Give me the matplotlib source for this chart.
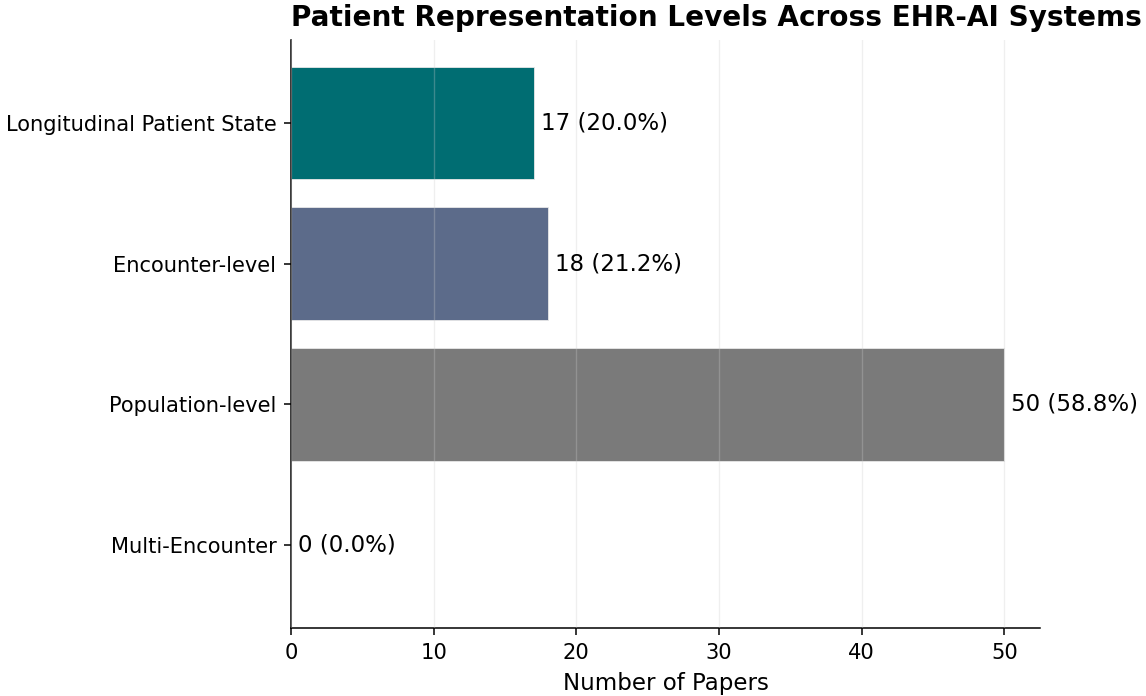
import matplotlib
matplotlib.use("Agg")
import matplotlib.pyplot as plt

categories = ["Longitudinal Patient State", "Encounter-level", "Population-level", "Multi-Encounter"]
counts = [17, 18, 50, 0]
percents = [20.0, 21.2, 58.8, 0.0]
colors = ["#006d72", "#5c6b8a", "#7a7a7a", "#9a9a9a"]

fig = plt.figure(figsize=(11.46, 6.96), dpi=100)
ax = fig.add_axes([291/1146, 68/696, (1040-291)/1146, (628-40)/696])

y = list(range(len(categories)))
ax.barh(y, counts, height=0.8, color=colors, edgecolor="#e8e8e8", linewidth=0.6, zorder=2)
ax.set_yticks(y)
ax.set_yticklabels(categories, fontsize=15.1)
ax.invert_yaxis()
ax.set_xlim(0, max(counts) * 1.05)
ax.tick_params(axis="both", labelsize=15.1, length=5, width=1.1, pad=5.5)
ax.grid(axis="x", color="#cccccc", alpha=0.3, linewidth=1.0, zorder=3)
ax.set_axisbelow(False)
for s in ["top", "right"]:
    ax.spines[s].set_visible(False)
for s in ["left", "bottom"]:
    ax.spines[s].set_linewidth(1.1)

for yi, c, p in zip(y, counts, percents):
    ax.text(c + 0.5, yi, f"{c} ({p:.1f}%)", va="center", ha="left", fontsize=16.5, zorder=4)

ax.set_xlabel("Number of Papers", fontsize=16.5, labelpad=7)
ax.set_title("Patient Representation Levels Across EHR-AI Systems", loc="left",
             fontsize=20.1, fontweight="bold", pad=10)

fig.savefig("out.png", dpi=100)
